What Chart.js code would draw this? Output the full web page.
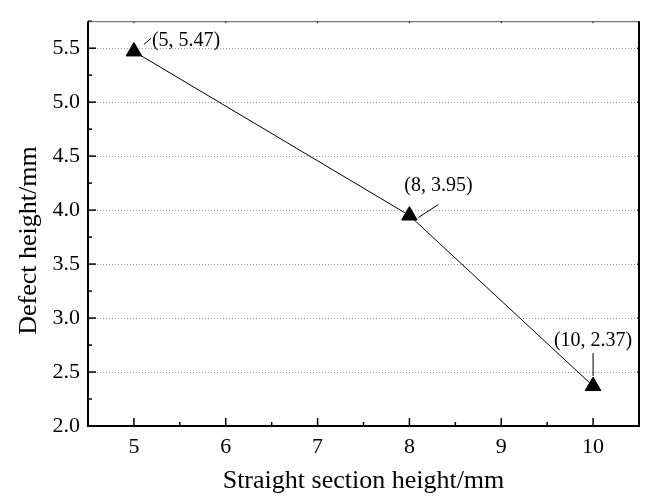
<!DOCTYPE html>
<html>
<head>
<meta charset="utf-8">
<script src="https://cdn.jsdelivr.net/npm/chart.js@4.4.0/dist/chart.umd.min.js"></script>
<style>
  html, body { margin: 0; padding: 0; background: #fff; }
  canvas { display: block; }
</style>
</head>
<body>
<canvas id="chart" width="649" height="503"></canvas>
<script>
// data
const straightHeights = [5, 8, 10];
const defectHeights = [5.47, 3.95, 2.37];
const pointLabels = ['(5, 5.47)', '(8, 3.95)', '(10, 2.37)'];
const xTickValues = [5, 6, 7, 8, 9, 10];
const yTickValues = [2.0, 2.5, 3.0, 3.5, 4.0, 4.5, 5.0, 5.5];
const yTitle = 'Defect height/mm';

const FONT = "'Liberation Serif', 'Times New Roman', serif";

// dotted grid, inward ticks and the box round the plot
const framePlugin = {
  id: 'frame',
  beforeDatasetsDraw(chart) {
    const { ctx, chartArea: a, scales: { y } } = chart;
    ctx.save();
    ctx.strokeStyle = '#9a9a9a';
    ctx.lineWidth = 1;
    ctx.setLineDash([1, 2]);
    yTickValues.forEach(v => {
      if (v === y.min) return;
      const py = Math.round(y.getPixelForValue(v)) + 0.5;
      ctx.beginPath();
      ctx.moveTo(a.left, py);
      ctx.lineTo(a.right, py);
      ctx.stroke();
    });
    ctx.restore();
  },
  afterDraw(chart) {
    const { ctx, chartArea: a, scales: { x, y } } = chart;
    ctx.save();
    ctx.strokeStyle = '#000';
    ctx.lineWidth = 1.5;
    // ticks on the left and bottom, pointing in
    xTickValues.forEach(v => {
      const px = x.getPixelForValue(v);
      ctx.beginPath(); ctx.moveTo(px, a.bottom); ctx.lineTo(px, a.bottom - 8); ctx.stroke();
      const pm = x.getPixelForValue(v + 0.5);
      ctx.beginPath(); ctx.moveTo(pm, a.bottom); ctx.lineTo(pm, a.bottom - 4); ctx.stroke();
      ctx.lineWidth = 1;
      ctx.beginPath(); ctx.moveTo(px, a.top); ctx.lineTo(px, a.top + 2); ctx.stroke();
      ctx.lineWidth = 1.5;
    });
    yTickValues.forEach(v => {
      const py = y.getPixelForValue(v);
      ctx.beginPath(); ctx.moveTo(a.left, py); ctx.lineTo(a.left + 8, py); ctx.stroke();
      const pm = y.getPixelForValue(v + 0.25);
      ctx.beginPath(); ctx.moveTo(a.left, pm); ctx.lineTo(a.left + 4, pm); ctx.stroke();
      ctx.lineWidth = 1;
      ctx.beginPath(); ctx.moveTo(a.right, py); ctx.lineTo(a.right - 2, py); ctx.stroke();
      ctx.lineWidth = 1.5;
    });
    // top edge is thin grey, the other three are heavier
    ctx.strokeStyle = '#555';
    ctx.lineWidth = 1;
    ctx.beginPath(); ctx.moveTo(a.left, a.top + 0.5); ctx.lineTo(a.right, a.top + 0.5); ctx.stroke();
    ctx.strokeStyle = '#000';
    ctx.lineWidth = 2;
    ctx.beginPath();
    ctx.moveTo(a.right, a.top);
    ctx.lineTo(a.right, a.bottom);
    ctx.lineTo(a.left, a.bottom);
    ctx.lineTo(a.left, a.top);
    ctx.stroke();

    // y title sits a bit below the middle of the axis in the original
    ctx.fillStyle = '#000';
    ctx.font = '26px ' + FONT;
    ctx.textAlign = 'center';
    ctx.textBaseline = 'middle';
    ctx.translate(29, (a.top + a.bottom) / 2 + 17);
    ctx.rotate(-Math.PI / 2);
    ctx.fillText(yTitle, 0, 0);
    ctx.restore();
  }
};

// "(x, y)" callouts with their little leader lines
const calloutPlugin = {
  id: 'callouts',
  afterDatasetsDraw(chart) {
    const { ctx } = chart;
    const pts = chart.getDatasetMeta(0).data;
    const place = [
      { dx: 18, dy: -11, align: 'left', lead: [10, -7, 17, -13] },
      { dx: 29, dy: -30, align: 'center', lead: [9, 2, 29, -11] },
      { dx: 0, dy: -45, align: 'center', lead: [0, -10, 0, -33] }
    ];
    ctx.save();
    ctx.fillStyle = '#000';
    ctx.strokeStyle = '#000';
    ctx.lineWidth = 1;
    ctx.font = '20px ' + FONT;
    ctx.textBaseline = 'middle';
    pts.forEach((p, i) => {
      const o = place[i];
      ctx.beginPath();
      ctx.moveTo(p.x + o.lead[0], p.y + o.lead[1]);
      ctx.lineTo(p.x + o.lead[2], p.y + o.lead[3]);
      ctx.stroke();
      ctx.textAlign = o.align;
      ctx.fillText(pointLabels[i], p.x + o.dx, p.y + o.dy);
    });
    ctx.restore();
  }
};

new Chart(document.getElementById('chart'), {
  type: 'line',
  data: {
    datasets: [{
      data: straightHeights.map((v, i) => ({ x: v, y: defectHeights[i] })),
      borderColor: '#000',
      borderWidth: 1,
      backgroundColor: '#000',
      pointStyle: 'triangle',
      pointRadius: 9,
      pointBorderWidth: 1,
      tension: 0
    }]
  },
  options: {
    responsive: false,
    animation: false,
    devicePixelRatio: 1,
    layout: { padding: { top: 13, right: 3, left: 0, bottom: 0 } },
    plugins: { legend: { display: false }, tooltip: { enabled: false } },
    scales: {
      x: {
        type: 'linear',
        min: 4.5,
        max: 10.5,
        afterBuildTicks: s => { s.ticks = xTickValues.map(v => ({ value: v })); },
        afterFit: s => { s.height = 77; },
        grid: { display: false, drawTicks: false },
        border: { display: false },
        ticks: {
          color: '#000',
          padding: 8,
          font: { family: FONT, size: 22 },
          callback: v => String(v)
        },
        title: {
          display: true,
          text: 'Straight section height/mm',
          color: '#000',
          font: { family: FONT, size: 26 },
          padding: { top: 0, bottom: 6 }
        }
      },
      y: {
        type: 'linear',
        min: 2.0,
        max: 5.75,
        afterBuildTicks: s => { s.ticks = yTickValues.map(v => ({ value: v })); },
        afterFit: s => { s.width = 88; },
        grid: { display: false, drawTicks: false },
        border: { display: false },
        ticks: {
          color: '#000',
          padding: 8,
          font: { family: FONT, size: 22 },
          callback: v => v.toFixed(1)
        },
        title: { display: false }
      }
    }
  },
  plugins: [framePlugin, calloutPlugin]
});
</script>
</body>
</html>
